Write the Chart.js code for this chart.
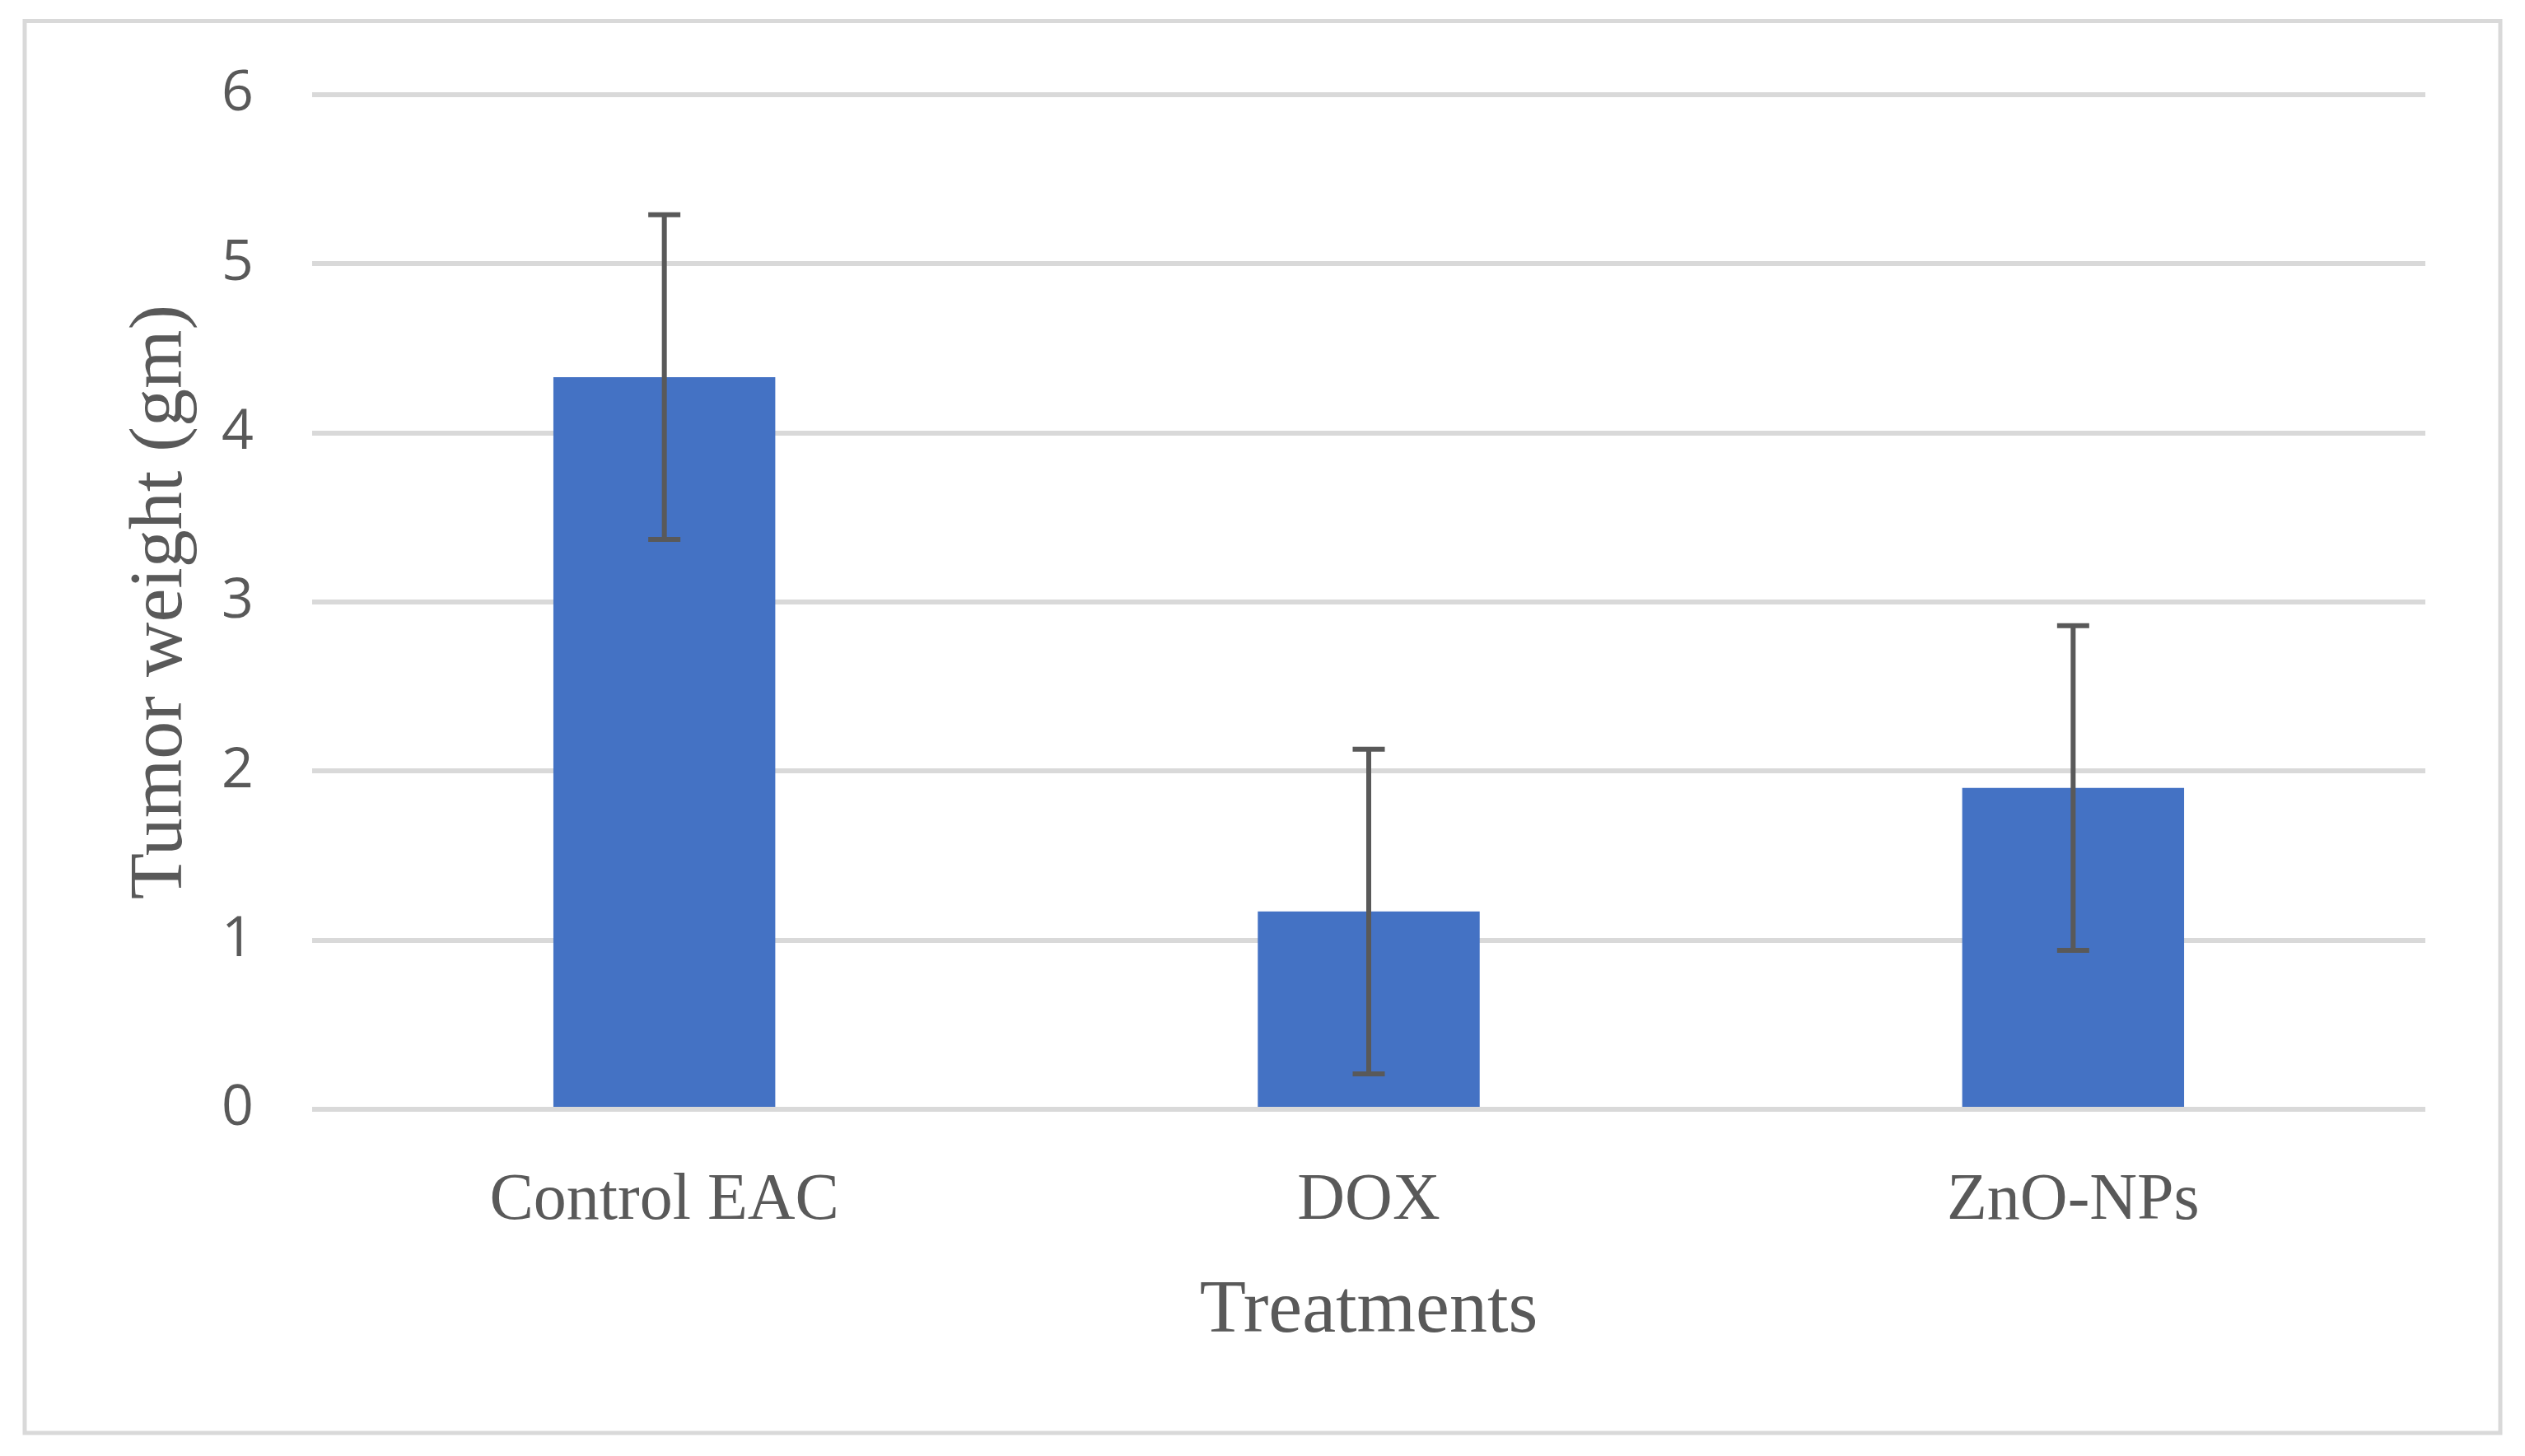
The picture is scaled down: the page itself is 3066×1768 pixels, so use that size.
<!DOCTYPE html>
<html>
<head>
<meta charset="utf-8">
<script src="https://cdn.jsdelivr.net/npm/chart.js@4"></script>
<style>
  html, body { margin: 0; padding: 0; background: #fff; }
  #canvas { display: block; }
</style>
</head>
<body>
<canvas id="canvas" width="3066" height="1768"></canvas>
<script>
var treatments = ["Control EAC", "DOX", "ZnO-NPs"];
var tumorWeight = [4.33, 1.17, 1.90];
var tumorError = [0.96, 0.96, 0.96];
var yTicks = [0, 1, 2, 3, 4, 5, 6];

var textColor = '#595959';
var gridColor = '#d9d9d9';

// outer frame round the whole chart
var framePlugin = {
    id: 'frame',
    beforeDraw: function(chart) {
        var ctx = chart.ctx;
        ctx.save();
        ctx.fillStyle = '#fff';
        ctx.fillRect(0, 0, chart.width, chart.height);
        ctx.strokeStyle = gridColor;
        ctx.lineWidth = 5;
        ctx.strokeRect(30, 25.5, 3006, 1714.5);
        ctx.restore();
    }
};

// error bars, placed through the y scale
var errorBarPlugin = {
    id: 'errorBars',
    afterDatasetsDraw: function(chart) {
        var ctx = chart.ctx;
        var meta = chart.getDatasetMeta(0);
        var y = chart.scales.y;
        ctx.save();
        ctx.strokeStyle = textColor;
        ctx.lineWidth = 6;
        meta.data.forEach(function(bar, i) {
            var top = y.getPixelForValue(tumorWeight[i] + tumorError[i]);
            var bottom = y.getPixelForValue(tumorWeight[i] - tumorError[i]);
            var half = 19.5;
            ctx.beginPath();
            ctx.moveTo(bar.x, top);
            ctx.lineTo(bar.x, bottom);
            ctx.moveTo(bar.x - half, top);
            ctx.lineTo(bar.x + half, top);
            ctx.moveTo(bar.x - half, bottom);
            ctx.lineTo(bar.x + half, bottom);
            ctx.stroke();
        });
        ctx.restore();
    }
};

var config = {
    type: 'bar',
    data: {
        labels: treatments,
        datasets: [{
            label: 'Tumor weight',
            data: tumorWeight,
            backgroundColor: '#4472c4',
            borderWidth: 0,
            barPercentage: 0.315,
            categoryPercentage: 1
        }]
    },
    options: {
        responsive: false,
        animation: false,
        devicePixelRatio: 1,
        layout: {
            autoPadding: false,
            padding: { left: 0, right: 121, top: 115, bottom: 0 }
        },
        plugins: {
            legend: { display: false },
            tooltip: { enabled: false }
        },
        scales: {
            x: {
                grid: { display: false, drawTicks: false },
                border: { display: false },
                ticks: {
                    color: textColor,
                    padding: 64,
                    font: { family: '"Liberation Serif", serif', size: 80 }
                },
                title: {
                    display: true,
                    text: 'Treatments',
                    color: textColor,
                    padding: { top: 0, bottom: 129 },
                    font: { family: '"Liberation Serif", serif', size: 92, lineHeight: 1 }
                },
                afterFit: function(scale) { scale.height = 421; }
            },
            y: {
                min: 0,
                max: 6,
                afterBuildTicks: function(scale) {
                    scale.ticks = yTicks.map(function(v) { return { value: v }; });
                },
                grid: { color: gridColor, lineWidth: 6, drawTicks: false },
                border: { display: false },
                ticks: {
                    color: textColor,
                    padding: 71,
                    font: { family: '"Open Sans", sans-serif', size: 68 }
                },
                title: {
                    display: true,
                    text: 'Tumor weight (gm)',
                    color: textColor,
                    padding: { top: 150, bottom: 0 },
                    font: { family: '"Liberation Serif", serif', size: 92, lineHeight: 1 }
                },
                afterFit: function(scale) { scale.width = 379; }
            }
        }
    },
    plugins: [framePlugin, errorBarPlugin]
};

window.onload = function() {
    window.myBar = new Chart(document.getElementById("canvas"), config);
};
</script>
</body>
</html>
